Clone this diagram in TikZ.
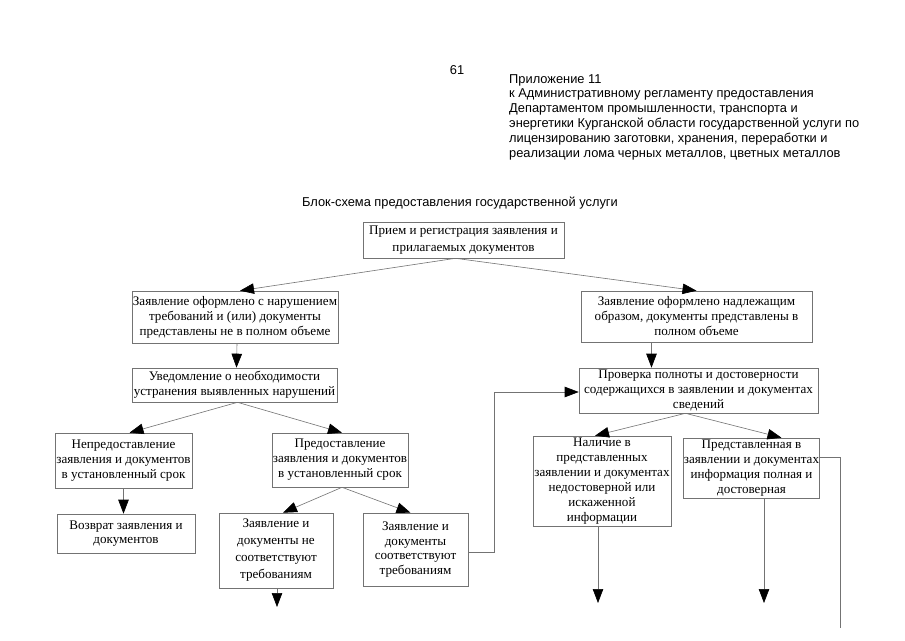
\documentclass[tikz,border=0pt]{standalone}
\usepackage{fontspec}
\setmainfont{Liberation Serif}
\newfontfamily\hdrfont{Liberation Sans}
\usetikzlibrary{arrows.meta}
\begin{document}
\begin{tikzpicture}[x=1pt,y=-1pt,
  bx/.style={draw=black!55, line width=0.6pt, align=center, inner xsep=0.5pt, inner ysep=1pt,
    font=\fontsize{13.1}{15}\selectfont, text=black},
  ln/.style={draw=black!55, line width=0.6pt},
  arr/.style={ln, -{Triangle[length=14pt,width=10.5pt,black]}},
  hdr/.style={font=\hdrfont\fontsize{12.85}{14.8}\selectfont, inner sep=0pt, text=black}]
\useasboundingbox (0,0) rectangle (905,640);
\fill[white] (0,0) rectangle (905,640);
% header
\node[hdr, anchor=center] (pg) at (457,70) {61};
\node[hdr, anchor=north west, align=left] (app) at (509,74) {Приложение 11\\
к Административному регламенту предоставления\\
Департаментом промышленности, транспорта и\\
энергетики Курганской области государственной услуги по\\
лицензированию заготовки, хранения, переработки и\\
реализации лома черных металлов, цветных металлов};
\node[hdr, anchor=center] (title) at (460,203) {Блок-схема предоставления государственной услуги};
% boxes
\node[bx, minimum width=201, minimum height=36, font=\fontsize{13.1}{16.5}\selectfont] (top) at (463.5,240) {Прием и регистрация заявления и\\прилагаемых документов};
\node[bx, minimum width=206, minimum height=52] (A) at (235,317) {Заявление оформлено с нарушением\\требований и (или) документы\\представлены не в полном объеме};
\node[bx, minimum width=205, minimum height=34] (B) at (234.5,385) {Уведомление о необходимости\\устранения выявленных нарушений};
\node[bx, minimum width=231, minimum height=51] (C) at (696.5,316.5) {Заявление оформлено надлежащим\\образом, документы представлены в\\полном объеме};
\node[bx, minimum width=239, minimum height=45] (D) at (698.5,390.5) {Проверка полноты и достоверности\\содержащихся в заявлении и документах\\сведений};
\node[bx, minimum width=137, minimum height=55] (E) at (123.5,460.5) {Непредоставление\\заявления и документов\\в установленный срок};
\node[bx, minimum width=136, minimum height=54] (F) at (340,460) {Предоставление\\заявления и документов\\в установленный срок};
\node[bx, minimum width=138, minimum height=39, font=\fontsize{13.1}{14}\selectfont] (G) at (126,533.5) {Возврат заявления и\\документов};
\node[bx, minimum width=114, minimum height=75, font=\fontsize{13.1}{17}\selectfont] (H) at (276,550.5) {Заявление и\\документы не\\соответствуют\\требованиям};
\node[bx, minimum width=105, minimum height=73, font=\fontsize{13.1}{14.5}\selectfont] (I) at (415.5,549.5) {Заявление и\\документы\\соответствуют\\требованиям};
\node[bx, minimum width=138, minimum height=90] (J) at (602,481) {Наличие в\\представленных\\заявлении и документах\\недостоверной или\\искаженной\\информации};
\node[bx, minimum width=127, minimum height=60, inner ysep=0pt] (K) at (751.5,468) {Представленная в\\заявлении и документах\\информация полная и\\достоверная};
% free ends
\coordinate (hend) at (277,607);
\coordinate (jend) at (598,603);
\coordinate (kend) at (764,603);
\coordinate (kout) at (840,628);
% connectors
\draw[arr] ([xshift=-8pt]top.south) -- ([xshift=5pt]A.north);
\draw[arr] ([xshift=-8pt]top.south) -- (C.north);
\draw[arr] ([xshift=2pt]A.south) -- ([xshift=2pt]B.north);
\draw[arr] ([xshift=-45pt]C.south) -- ([xshift=-45pt]C.south |- D.north);
\draw[arr] ([xshift=3pt]B.south) -- ([xshift=6pt]E.north);
\draw[arr] ([xshift=3pt]B.south) -- ([xshift=2pt]F.north);
\draw[arr] (E.south) -- (E.south |- G.north);
\draw[arr] ([xshift=2pt]F.south) -- ([xshift=7pt]H.north);
\draw[arr] ([xshift=2pt]F.south) -- ([xshift=-5pt]I.north);
\draw[arr] (H.south -| hend) -- (hend);
\draw[arr] ([yshift=-2.5pt]I.east) -- ++(26,0) |- ([yshift=-1.5pt]D.west);
\draw[arr] ([xshift=-13pt]D.south) -- ([xshift=-7pt]J.north);
\draw[arr] ([xshift=-13pt]D.south) -- ([xshift=30pt]K.north);
\draw[arr] (J.south -| jend) -- (jend);
\draw[arr] (K.south -| kend) -- (kend);
\draw[ln] ([yshift=11pt]K.east) -| (kout);
\end{tikzpicture}
\end{document}
